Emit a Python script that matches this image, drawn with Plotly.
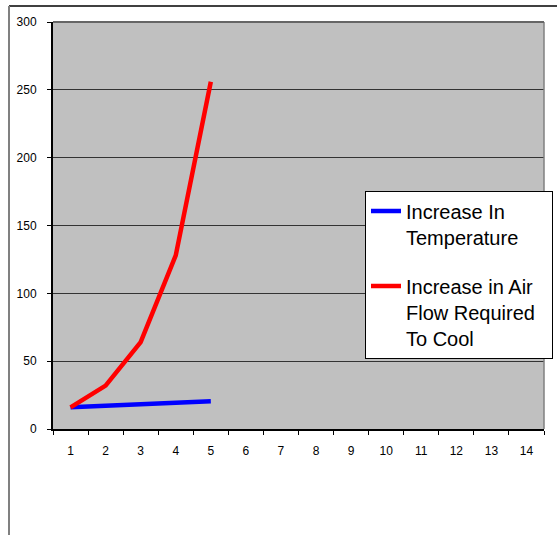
import plotly.graph_objects as go

categories = [str(i) for i in range(1, 15)]
x_data = ["1", "2", "3", "4", "5"]
temperature = [16, 17, 18, 19.5, 20.5]
airflow = [16, 32, 64, 128, 256]
y_ticks = [0, 50, 100, 150, 200, 250, 300]

W, H = 557, 535
L, R, T, B = 53, 13, 22, 106
pw, ph = W - L - R, H - T - B

def px_x(x):
    return (x - L) / pw

def px_y(y):
    return (H - B - y) / ph

font = "Arial, Liberation Sans, sans-serif"

fig = go.Figure()
fig.add_trace(go.Scatter(x=x_data, y=temperature, mode="lines",
                         name="Increase In<br>Temperature",
                         line=dict(color="#0000FF", width=4.5),
                         legendgroup="a"))
fig.add_trace(go.Scatter(x=x_data, y=airflow, mode="lines",
                         name="Increase in Air<br>Flow Required&nbsp;&nbsp;<br>To Cool",
                         line=dict(color="#FF0000", width=4.5),
                         legendgroup="b"))

fig.update_layout(
    width=W, height=H,
    margin=dict(l=L, r=R, t=T, b=B, pad=0, autoexpand=False),
    paper_bgcolor="white",
    plot_bgcolor="#C0C0C0",
    font=dict(family=font, size=12, color="black"),
    showlegend=True,
    legend=dict(
        x=px_x(365), y=px_y(190.5), xanchor="left", yanchor="top",
        bgcolor="white", bordercolor="black", borderwidth=1,
        font=dict(family=font, size=20, color="black"),
        valign="top", tracegroupgap=20, itemwidth=30,
    ),
    xaxis=dict(
        type="category", categoryorder="array", categoryarray=categories,
        range=[-0.5, 13.5], tickson="boundaries",
        showline=True, linecolor="black", linewidth=2,
        ticks="outside", ticklen=4, tickcolor="black", tickwidth=1,
        showgrid=False, zeroline=False, fixedrange=True,
        ticklabelstandoff=10,
    ),
    yaxis=dict(
        range=[0, 300], tickvals=y_ticks,
        showline=True, linecolor="black", linewidth=2,
        ticks="outside", ticklen=4, tickcolor="black", tickwidth=1,
        showgrid=True, gridcolor="#333333", gridwidth=1,
        zeroline=False, fixedrange=True, ticklabelstandoff=8,
    ),
    shapes=[
        dict(type="line", xref="paper", yref="paper", x0=1, x1=1, y0=0, y1=1,
             line=dict(color="#808080", width=1.5)),
        dict(type="line", xref="paper", yref="paper", x0=0, x1=1, y0=1, y1=1,
             line=dict(color="#666666", width=2)),
        dict(type="line", xref="paper", yref="paper", x0=px_x(9), x1=px_x(560),
             y0=px_y(6), y1=px_y(6), line=dict(color="black", width=1.5)),
        dict(type="line", xref="paper", yref="paper", x0=px_x(9), x1=px_x(9),
             y0=px_y(6), y1=px_y(540), line=dict(color="#808080", width=2)),
    ],
)

fig.write_html("out.html",
               config={"displayModeBar": False},
               post_script="document.body.style.margin='0px';document.body.style.padding='0px';")
